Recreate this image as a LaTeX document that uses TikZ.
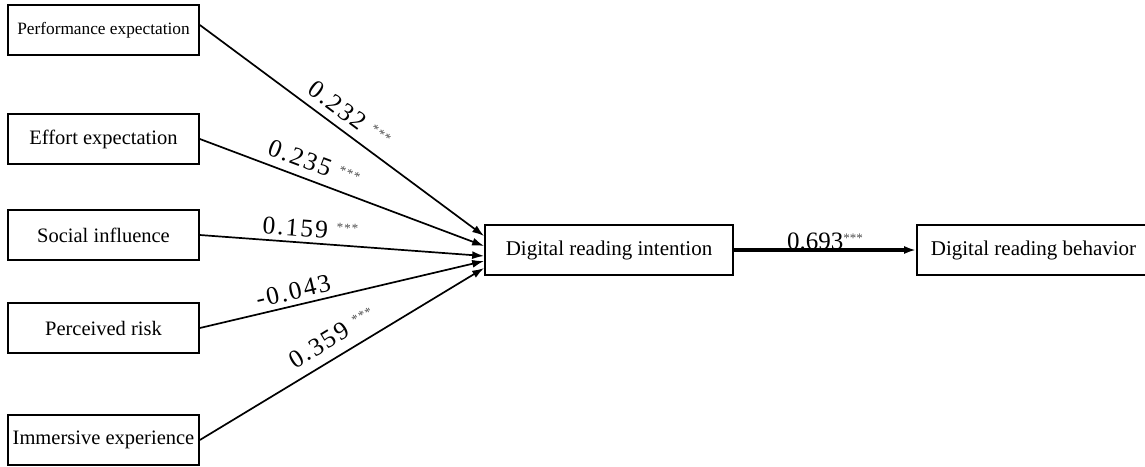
\documentclass[tikz,border=0pt]{standalone}
\usepackage{fontspec}
\setmainfont{Liberation Serif}
\newfontfamily\coeffont[LetterSpace=8]{Liberation Serif}
\usetikzlibrary{arrows.meta}
\newcommand{\stars}{\raisebox{0.6ex}{\fontsize{13}{13}\selectfont\color{black!70}***}}

\begin{document}
\begin{tikzpicture}[x=1pt,y=-1pt,
  box/.style={rectangle,draw,line width=1.7pt,minimum width=191pt,minimum height=50pt,inner sep=0pt,font=\fontsize{20.5}{22}\selectfont},
  path/.style={draw,line width=1.7pt,-{Latex[length=12pt,width=8pt]}},
  coef/.style={sloped,above,font=\coeffont\fontsize{25.5}{26}\selectfont}]
\useasboundingbox (0,0) rectangle (1145,466);

% Input constructs
\node[box,font=\fontsize{17.3}{19}\selectfont] (perf) at (103.5,30) {Performance expectation};
\node[box] (effort) at (103.5,139) {Effort expectation};
\node[box] (social) at (103.5,235) {Social influence};
\node[box] (risk) at (103.5,328) {Perceived risk};
\node[box] (immersive) at (103.5,440) {Immersive experience};

% Intention and behavior
\node[box,minimum width=248pt,font=\fontsize{21}{22}\selectfont] (intent) at (609,250) {Digital reading intention};
\node[box,minimum width=233pt,font=\fontsize{21}{22}\selectfont] (behavior) at (1033.5,250) {Digital reading behavior};

% Paths
\draw[path] ([yshift=5pt]perf.east) -- node[coef,pos=0.49,inner sep=8pt] {0.232 \stars} ([yshift=14pt]intent.west);
\draw[path] (effort.east) -- node[coef,pos=0.38,inner sep=8pt] {0.235 \stars} ([yshift=4pt]intent.west);
\draw[path] (social.east) -- node[coef,pos=0.385,inner sep=5pt] {0.159 \stars} ([yshift=-6pt]intent.west);
\draw[path] (risk.east) -- node[coef,pos=0.34,inner sep=5pt] {-0.043} ([yshift=-11pt]intent.west);
\draw[path] (immersive.east) -- node[coef,pos=0.5,inner sep=10pt] {0.359 \stars} ([yshift=-18pt]intent.west);
\draw[path,line width=3.2pt] (intent) -- node[midway,anchor=base,inner sep=0pt,yshift=1pt,font=\fontsize{25}{25}\selectfont] {0.693\stars} (behavior);
\end{tikzpicture}
\end{document}
